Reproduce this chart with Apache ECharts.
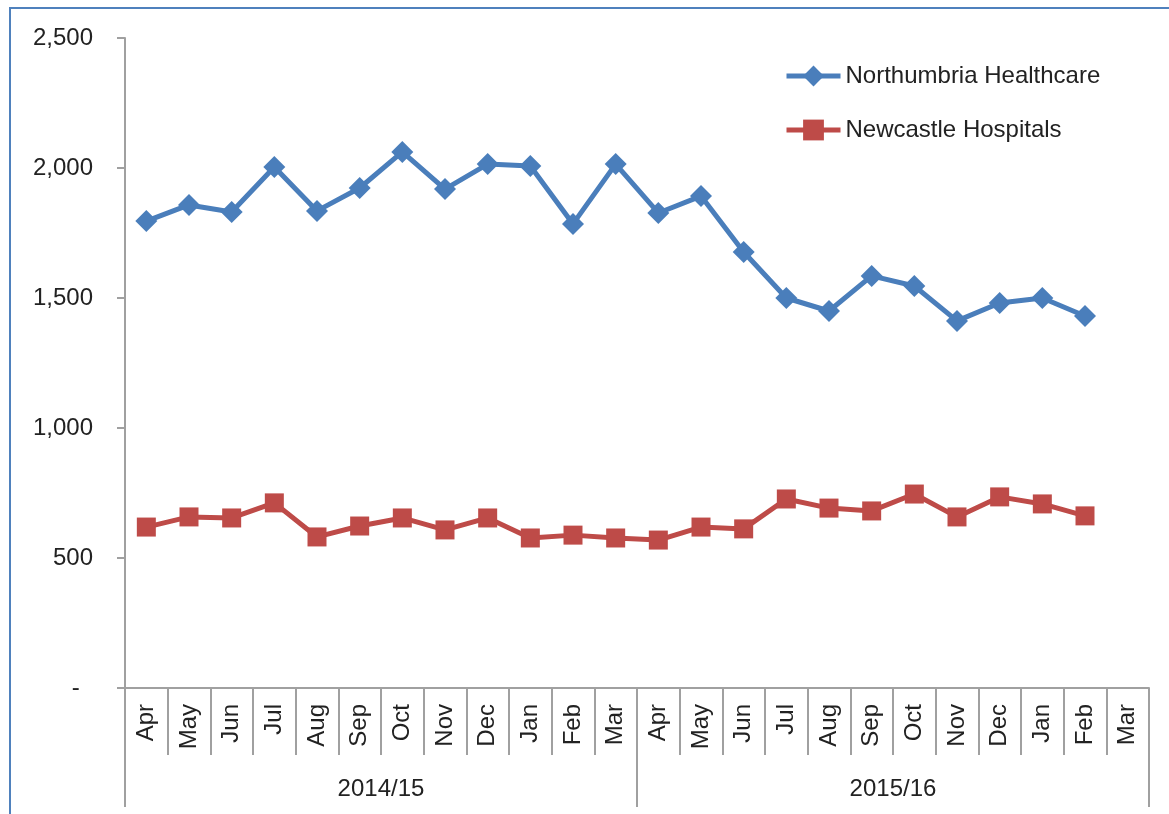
<!DOCTYPE html>
<html>
<head>
<meta charset="utf-8">
<script src="https://cdn.jsdelivr.net/npm/echarts@6/dist/echarts.min.js"></script>
<style>
  html, body { margin: 0; padding: 0; background: #fff; }
  #chart { width: 1169px; height: 814px; }
  .frame {
    position: absolute; left: 9px; top: 7px; width: 1300px; height: 900px;
    border-left: 2px solid #4f81bd; border-top: 2px solid #4f81bd;
    pointer-events: none;
  }
</style>
</head>
<body>
<div id="chart"></div>
<div class="frame"></div>
<script>
const months = ['Apr', 'May', 'Jun', 'Jul', 'Aug', 'Sep', 'Oct', 'Nov', 'Dec', 'Jan', 'Feb', 'Mar',
  'Apr', 'May', 'Jun', 'Jul', 'Aug', 'Sep', 'Oct', 'Nov', 'Dec', 'Jan', 'Feb', 'Mar']
const years = ['2014/15', '2015/16']
const yTicks = [0, 500, 1000, 1500, 2000, 2500]

const northumbria = [1796, 1858, 1831, 2004, 1835, 1923, 2062, 1919, 2015, 2008, 1785, 2015,
  1827, 1892, 1677, 1500, 1450, 1585, 1546, 1412, 1481, 1500, 1431, null]
const newcastle = [619, 658, 654, 712, 581, 623, 654, 608, 654, 577, 588, 577,
  569, 619, 612, 727, 692, 681, 746, 658, 735, 708, 662, null]

const axisGrey = '#a0a0a0'
const textColor = '#222'
const font = 'Liberation Sans'

const option = {
  animation: false,
  textStyle: { fontFamily: font, color: textColor },
  grid: {
    left: 125,
    right: 20,
    top: 38,
    bottom: 126,
    containLabel: false,
  },
  legend: {
    orient: 'vertical',
    left: 779,
    top: 59,
    itemWidth: 54,
    itemHeight: 26,
    itemGap: 30,
    lineStyle: { width: 5 },
    textStyle: { fontSize: 24, color: textColor, fontFamily: font },
    data: ['Northumbria Healthcare', 'Newcastle Hospitals'],
  },
  xAxis: [
    {
      // month level
      type: 'category',
      data: months,
      boundaryGap: true,
      axisLine: { show: true, lineStyle: { color: axisGrey, width: 2 } },
      axisTick: { show: true, interval: 0, length: 67, lineStyle: { color: axisGrey, width: 2 } },
      axisLabel: {
        interval: 0,
        rotate: 90,
        margin: 16,
        fontSize: 24,
        color: textColor,
        fontFamily: font,
      },
      splitLine: { show: false },
    },
    {
      // year level
      type: 'category',
      data: years,
      position: 'bottom',
      boundaryGap: true,
      axisLine: { show: false },
      axisTick: { show: true, interval: 0, length: 119, lineStyle: { color: axisGrey, width: 2 } },
      axisLabel: {
        interval: 0,
        margin: 89,
        fontSize: 24,
        color: textColor,
        fontFamily: font,
      },
      splitLine: { show: false },
    },
  ],
  yAxis: {
    type: 'value',
    min: yTicks[0],
    max: yTicks[yTicks.length - 1],
    interval: 500,
    axisLine: { show: true, lineStyle: { color: axisGrey, width: 2 } },
    axisTick: { show: true, length: 8, lineStyle: { color: axisGrey, width: 2 } },
    axisLabel: {
      margin: 32,
      fontSize: 24,
      color: textColor,
      fontFamily: font,
      formatter: v => (v === 0 ? '-  ' : v.toLocaleString('en-GB')),
    },
    splitLine: { show: false },
  },
  series: [
    {
      name: 'Northumbria Healthcare',
      type: 'line',
      data: northumbria,
      symbol: 'diamond',
      symbolSize: 22,
      lineStyle: { width: 5, color: '#4a7ebb' },
      itemStyle: { color: '#4a7ebb' },
    },
    {
      name: 'Newcastle Hospitals',
      type: 'line',
      data: newcastle,
      symbol: 'rect',
      symbolSize: 19,
      lineStyle: { width: 5, color: '#be4b48' },
      itemStyle: { color: '#be4b48' },
    },
  ],
}

const myChart = echarts.init(document.getElementById('chart'), null, { renderer: 'canvas' })
myChart.setOption(option)
</script>
</body>
</html>
